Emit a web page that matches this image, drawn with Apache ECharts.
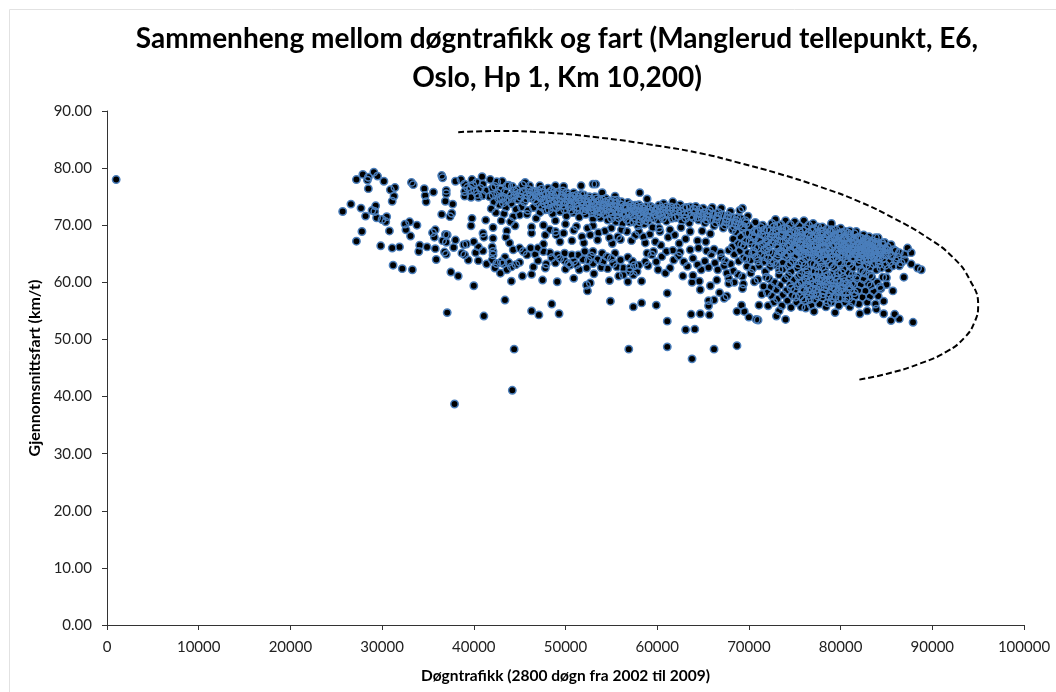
<!DOCTYPE html>
<html>
<head>
<meta charset="utf-8">
<title>Sammenheng mellom døgntrafikk og fart</title>
<script src="https://cdn.jsdelivr.net/npm/echarts@6/dist/echarts.min.js"></script>
<style>
html,body{margin:0;padding:0;background:#fff}
#chart{width:1056px;height:692px}
</style>
</head>
<body>
<div id="chart"></div>
<script>
// [tusen kjoretoy per dogn, km/t]
var enslig = [[1,78]]
var venstreKlynge = [[25.7,72.4],[26.6,73.7],[27.2,78],[27.2,67.2],[27.8,68.9],[27.7,73],[27.9,78.9],[28.2,71.6],[28.5,78.4],[28.5,76.4],[28.4,77.9],[28.9,72.6],[29.1,79.3],[29.3,73.4],[29.2,72.4],[29.5,78.6],[29.4,71.3],[29.85,66.4],[30,71],[30.2,77.7],[30.5,71.5],[30.4,70.6],[30.8,69],[30.9,76.2],[31.4,76.6],[31.3,75.1],[31.1,74.2],[31.1,66],[31.2,63],[31.9,66.2],[32.2,62.4],[33.3,62.2],[32.5,70.2],[33,70.6],[32.6,69.2],[33.1,68.1],[33.8,70],[33.2,77.5],[33.4,77.1],[34.6,76.4],[34.7,75.2],[34.8,74.1],[35.6,75.8],[34.1,66.5],[34,65.4],[34.9,66.2],[35.8,65.9],[35.9,64],[35.8,69.2],[35.5,68.7],[35.7,67.9],[36.5,71.9],[36.5,78.7],[36.6,78.3],[37,76.1],[37,75.5],[36.9,74.2],[37.7,73.7],[37.6,72.1],[37.4,71.5],[37.1,68.3],[36.9,68.4],[36.6,67.3],[37,67],[38,67.4],[37.8,66.1],[37,64.9],[36.8,65.3],[37.5,61.8],[38.3,61.1],[40,59.4]]
var utliggere = [[37.1,54.7],[41.1,54.1],[43.4,56.9],[44.4,48.3],[44.2,41.1],[37.9,38.7],[46.3,55],[47.1,54.3],[48.5,56.2],[49.3,54.5],[54.9,56.7],[56.9,48.3],[57.4,55.7],[58.3,56.4],[59.9,56],[61.1,58.1],[61.1,53.2],[61.1,48.7],[63.8,46.6],[66.2,48.3],[68.7,48.9],[63.1,51.7],[64.1,51.8],[63.7,54.4],[64.7,54.5],[65.7,54.3],[65.6,55.9],[65.6,56.8],[66.2,56.9],[67.3,57.2],[67.6,57.6],[66.8,58.2],[64.7,58.7],[65.8,59.4],[66.5,60.4],[63.8,60],[64.6,60.2],[62.8,61.1],[63.9,61.2],[69.4,59.7],[69.3,58.9],[68.4,60],[67.8,59.8],[67.8,60.7],[69.2,56],[68.7,54.9],[69.5,54.9],[70,53.9],[70.8,53.5],[71,53.4],[71.1,56],[74,53.5],[73.3,55],[73,54.1],[72.1,55.9],[76.2,55.5],[77.1,54.9],[79.4,54.7],[81,55.7],[82.1,54.5],[82.9,55],[83.9,55.3],[84.7,54.5],[85.5,53.3],[85.9,54.4],[86.4,53.6],[87.9,53],[84.7,56.7],[85.7,58.5],[86.9,60.9],[88.8,62.2],[88.4,62.5],[87.7,63.2],[87,63.9],[87.7,65.2],[87.3,66],[87,64.9],[86.4,62.9],[84.3,59.2],[83.3,59.4],[85,60.8]]
var ovreBandVenstre = [[38,77.7],[38.6,78],[39,77.2],[39.8,78],[40.9,78.5],[41,77.2],[40.3,77.5],[41.8,78],[42.5,77.6],[43.1,77.7],[39,75.9],[39.6,76.2],[40.1,76],[40.7,76.5],[39,75.1],[39.7,74.9],[40.5,74.9],[41,75.2],[42.3,76.8],[42.9,76.2],[42.1,75.3],[43.2,74.9],[43.6,76.9],[44.2,76.8],[44.7,76.2],[45.6,77.5],[46.1,76.9],[47.2,76.9],[48.1,76.5],[48.9,76.9],[49.8,76.8],[51.7,76.9],[53,77.2],[53.3,77.2],[54,75.7],[55.4,75.1],[58.1,75.7],[58.9,74.6],[60.7,73.8],[39.3,76.6],[39.9,77],[40.4,75.4],[41.3,76.1],[41.7,75],[42,76.5],[42.6,75.6],[43,74.6],[43.4,75.9],[43.8,77],[44,75.2],[44.4,76],[44.8,74.5],[45,75.6],[45.3,77],[45.5,74.1],[45.8,75.3],[46,76.2],[46.3,74.7],[46.6,75.8],[46.9,73.9],[47.1,75],[47.4,76.3],[47.6,74.3],[47.9,75.4],[48.1,73.6],[48.3,74.9],[48.5,76.1],[48.8,74.2],[49,75.4],[49.2,73.5],[49.5,74.7],[49.7,76],[50,74.1],[50.2,75.3],[50.4,73.2],[50.7,74.5],[50.9,75.7],[51.1,73.8],[51.4,74.9],[51.6,72.9],[51.8,74.2],[52,75.3],[52.3,73.4],[52.5,74.6],[52.7,72.6],[53,73.9],[53.2,75],[53.5,73],[53.7,74.3],[53.9,72.3],[54.2,73.5],[54.4,74.7],[54.6,72.8],[54.9,73.9],[55.1,71.9],[55.3,73.2],[55.6,74.4],[55.8,72.4],[56,73.6],[56.3,71.6],[56.5,72.9],[56.8,74],[57,72.1],[57.2,73.2],[57.5,71.3],[57.7,72.5],[58,73.6],[58.2,71.7],[58.5,72.9],[58.7,70.9],[59,72.2],[59.3,73.3],[42.8,73.6],[43.5,73.1],[44.1,73.8],[44.6,72.8],[45.2,73.2],[45.9,72.6],[46.5,73.1],[47.2,72.2],[47.8,72.7],[48.6,72],[49.4,72.4],[50.1,71.6],[50.8,72.2],[51.5,71.4],[52.2,71.9],[53,71.1],[53.8,71.3],[54.6,70.9],[55.5,70.6],[56.2,70.3],[57,70.5],[57.9,69.9],[58.6,70.2],[59.5,69.6],[41.9,72.9],[42.4,72.2],[43.3,72],[44.3,71.5],[46.8,71.2],[48.9,70.8]]
var tettBand = [[44.2,74.7],[44.5,75.3],[45.1,74.9],[45.4,75.9],[45.7,74.6],[46.2,75.1],[46.4,76],[46.7,74.4],[46.8,75.3],[47,76],[47.3,74.8],[47.5,75.6],[47.7,73.8],[47.9,74.5],[48.2,75.7],[48.4,74.2],[48.6,75.3],[48.7,73.2],[49,74.6],[49.1,75.8],[49.3,74.1],[49.6,75.2],[49.8,73.5],[50,74.8],[50.1,75.7],[50.3,74],[50.5,74.9],[50.6,73.6],[50.8,75.1],[51,74.3],[51.2,75.2],[51.3,73.2],[51.5,74.5],[51.7,75.4],[51.9,73.5],[52.1,74.6],[52.2,72.9],[52.4,74],[52.6,75],[52.8,73.2],[52.9,74.3],[53.1,72.7],[53.3,73.5],[53.4,74.6],[53.6,72.5],[53.8,73.6],[54,74.5],[54.1,72.8],[54.3,74],[54.5,73.1],[54.7,74.2],[54.8,72.2],[55,73.3],[55.2,74.4],[55.4,72.6],[55.5,73.8],[55.7,72],[55.9,73],[56.1,74.1],[56.2,72.2],[56.4,73.2],[56.6,71.9],[56.7,73.3],[56.9,72.5],[57.1,73.6],[57.3,71.8],[57.4,72.8],[57.6,73.5],[57.8,71.9],[57.9,73],[58.1,72.3],[58.3,73.2],[58.4,71.3],[58.6,72.4],[58.8,73.3],[58.9,71.5],[59.1,72.7],[59.2,71.4],[59.4,72.4],[59.6,73],[59.8,71.9],[60,72.9],[60.1,70.9],[60.3,72.2],[60.5,73],[60.6,71.2],[60.8,72],[61,73.2],[61.3,72.6],[61.6,71.2],[61.8,72.5],[62.1,73.1],[62.3,71.6],[62.6,72.4],[62.9,73],[63.1,71.2],[63.4,72.2],[63.6,73.2],[63.9,71.3],[64.1,72.2],[64.4,71.4],[64.6,72.7],[64.9,71.3],[65.1,72.2],[65.4,70.9],[65.6,72.1],[65.9,71],[66.1,71.9],[66.4,70.4],[66.6,71.6],[66.9,70.6],[67.1,71.8],[67.4,70],[67.6,71.2],[67.9,70.5],[68.1,71.4],[68.4,69.7],[68.6,70.8],[68.9,70],[69.1,71.2],[69.4,69.8],[69.7,70.3],[43.7,74.5],[43.2,73.9],[42.7,74.7],[42.2,74.1],[47.4,73.2],[48.2,72.7],[49,73.1],[49.9,72.8],[50.6,72.6],[51.2,72.7],[52,72.5],[52.9,72.2],[53.5,71.9],[54.3,71.9],[55,71.2],[55.8,71.3],[56.7,71],[57.4,70.6],[58.1,70.6],[59,70.7]]
var ovreBandHoyre = [[59.6,71.2],[59.9,72.6],[60.2,73.5],[60.4,71.7],[60.7,72.5],[61,70.7],[61.2,71.9],[61.5,73.2],[61.7,74.1],[62,71.3],[62.2,72.5],[62.5,73.6],[62.7,70.8],[63,71.9],[63.2,73.1],[63.5,70.4],[63.7,71.6],[64,72.8],[64.2,73.3],[64.5,70.9],[64.7,72],[65,73],[65.2,70.4],[65.5,71.5],[65.7,72.6],[66,73.1],[66.2,69.9],[66.5,71.1],[66.7,72.2],[67,73],[67.2,69.5],[67.5,70.6],[67.7,71.7],[68,72.4],[68.2,69.2],[68.5,70.3],[68.7,71.3],[69,72.6],[69.3,73],[69.6,70.8],[69.9,71.6],[60.2,69.5],[61.4,69.2],[62.6,69.6],[63.6,68.9],[64.9,69],[65.8,68.5],[61.9,68.3],[63.1,67.6],[62.4,66.8],[64.4,67.3],[65.3,67.1]]
var midtreSky = [[39.8,71.2],[39.7,69.9],[41.3,70.9],[42.1,69.6],[43,70.8],[44,70.6],[44.5,69.9],[43.6,69],[41,68.6],[41.1,67.9],[42.1,67.7],[43.5,67.9],[43.9,66.9],[45,71.8],[45.8,71.9],[46.3,69.7],[46.3,68.6],[47.6,70],[48.3,69.2],[48.9,68.9],[47.8,68.3],[49,68.3],[49.8,68.6],[50,70.2],[51.8,68],[52,66.9],[53.5,67.4],[53.6,68.7],[54.8,67.8],[55.7,68],[56.7,68.9],[58,68.9],[57.2,67.3],[58.7,66.9],[59.8,67.1],[59.6,65.4],[61,65.4],[61.2,67.9],[60.3,68.9],[51.2,69.8],[52.4,69.5],[53,69.9],[55,69.5],[56.1,69.2],[57.6,68.2],[49.4,67.1],[50.7,67.3],[55.1,66.8],[60.4,66.5],[50.9,69.1],[52.7,68.3],[54.3,69],[56,67.5],[58.5,68],[59.2,68.4]]
var nedreSky = [[38.9,66.6],[39.2,66.7],[40,67.1],[40.5,66.2],[40.2,65.2],[41,65.5],[42,66.2],[42.1,65.4],[39.4,63.9],[40.5,63.8],[41.4,63.2],[42,63.9],[42.1,64.8],[42.5,63.3],[42.3,62.5],[42.9,61.6],[43.4,64.4],[43.2,63.3],[43.6,62.2],[44.1,62.7],[44.1,60.2],[45.3,61.1],[46.3,61.4],[46.5,62.7],[45,63.5],[45.8,64.8],[45,66],[44.3,65.7],[45.4,65.4],[47,66],[47.6,66.7],[47.6,65.4],[48.3,65.2],[47,63.8],[47.9,63.2],[47.8,62.5],[48.5,64.3],[47.5,60.4],[49.1,60.1],[49.4,64.2],[49.9,65.1],[50.3,63.3],[50,62.3],[50.7,64.8],[50.5,63],[51.5,62.2],[50.9,60.7],[51.4,64.8],[52.1,65.4],[52.5,63.9],[53,65.4],[52.3,62.5],[53,63.3],[53.1,61.5],[52.7,59.9],[52.3,59.5],[52.4,58.5],[54,65.1],[54.5,64.5],[55.4,65.1],[54.1,63.6],[55.2,63.3],[54.8,60.3],[55.8,61.1],[56.3,62.5],[56.8,64.4],[57,62.5],[57.8,61.9],[58.7,63.6],[58.9,65.1],[59.4,64.8],[56.8,60.1],[58.3,60.2],[56.3,61.3],[57.4,61.3],[60.1,62.2],[60.9,61.6],[61.4,62.5],[43,63.6],[43.8,63.5],[44.6,63.1],[48.9,63.4],[49.1,64.8],[49.9,63.8],[50.9,63.7],[51.2,63.1],[51.9,64],[52.8,64.6],[53.5,64],[53.9,62.6],[54.6,62.4],[55,64.2],[55.6,62.7],[56,63.9],[57.3,63.7],[57.5,62.9],[57,61.9],[58,63],[59,62.9],[59.9,63.6],[60.5,64.5],[61.8,63.9],[62.3,64.6],[62.9,63.6],[63.3,62.8],[63.9,64.2],[64.4,63.1],[64.8,62.2],[65.2,63.7],[65.6,62.6],[65.9,64.9],[66.3,63.4],[66.6,62.2],[67,64.3],[67.3,62.9],[67.6,61.6],[61.7,65.6],[62.5,65.3],[63.6,65.7],[64.5,66],[65.4,65.5],[66.2,65.8],[66.9,65.2],[67.4,63.7],[67.8,65.6],[68,63.2],[68.3,62],[68.8,61.4],[69.3,61],[38.7,65.1],[39,64.8],[46.2,66],[46.7,64.9]]
var kjerneOvre = [[68.2,66.2],[68.3,67.6],[68.4,64.9],[68.6,68.8],[68.8,66.8],[68.9,63.7],[69,65.5],[69.1,68],[69.3,69.5],[69.4,64.3],[69.5,66.3],[69.6,67.2],[69.8,62.8],[69.9,65.1],[70,68.6],[70.1,69.8],[70.2,63.9],[70.3,66.7],[70.4,62.4],[70.5,65.4],[70.6,67.8],[70.7,70.5],[70.8,64.4],[70.9,69],[71,66],[71.1,62.9],[71.2,67.4],[71.3,64.9],[71.4,68.4],[71.5,70],[71.6,63.6],[71.7,65.7],[71.8,61.9],[71.9,67],[72,69.3],[72.1,64.2],[72.2,66.4],[72.3,62.7],[72.4,68],[72.5,70.3],[72.6,65.1],[72.7,63.5],[72.8,67.3],[72.9,71],[73,69],[73.1,64.5],[73.2,66],[73.3,62.2],[73.4,68.2],[73.5,70.1],[73.6,65.3],[73.7,63.4],[73.8,67.1],[73.9,69.5],[74,70.8],[74.1,64.5],[74.2,66.2],[74.3,62.9],[74.4,68.3],[74.5,70.1],[74.6,65.4],[74.7,67.2],[74.8,63.7],[74.9,69.1],[75,70.6],[75.1,66.1],[75.2,64.7],[75.3,62.5],[75.4,68],[75.5,69.9],[75.6,65.5],[75.7,67],[75.8,63.5],[75.9,69],[76,70.8],[76.1,66.2],[76.2,64.3],[76.3,68.2],[76.4,62.2],[76.5,70],[76.6,65.3],[76.7,67.3],[76.8,63.3],[76.9,69.2],[77,70.3],[77.1,66.1],[77.2,64.5],[77.3,68],[77.4,62.8],[77.5,69.7],[77.6,65.2],[77.7,67.2],[77.8,63.6],[77.9,68.9],[78,69.7],[78.1,66],[78.2,64.3],[78.3,62.2],[78.4,68],[78.5,69.3],[78.6,65.3],[78.7,67],[78.8,63.3],[78.9,68.8],[79,70.3],[79.1,66.2],[79.2,64.4],[79.3,62.6],[79.4,67.9],[79.5,69.2],[79.6,65.4],[79.7,66.9],[79.8,63.5],[79.9,68.5],[80,69.5],[80.1,66],[80.2,64.5],[80.3,62.3],[80.4,67.6],[80.5,68.9],[80.6,65.2],[80.7,66.7],[80.8,63.5],[80.9,68.2],[81,69],[81.1,65.9],[81.2,64.2],[81.3,62.5],[81.4,67.4],[81.5,68.5],[81.6,65.1],[81.7,68.9],[81.8,66.5],[81.9,63.4],[82,67.9],[82.1,64.6],[82.2,62.2],[82.3,65.7],[82.4,67],[82.5,68.3],[82.6,64],[82.7,66.2],[82.8,63],[82.9,67.5],[83,65],[83.1,68],[83.2,62.7],[83.3,66.3],[83.4,64.2],[83.5,67.2],[83.6,63.2],[83.7,65.5],[83.8,67.8],[83.9,64.3],[84,66.6],[84.1,67.8],[84.2,63.2],[84.3,65.2],[84.4,62.5],[84.5,66.9],[84.6,64.1],[84.7,65.8],[84.8,67],[84.9,63],[85,64.8],[85.1,66.2],[85.2,62.3],[85.3,65.2],[85.4,63.6],[85.5,66.6],[85.6,64.6],[85.7,62.9],[85.8,65.7],[86,65.5],[86,63.8],[86.2,64.4],[86.4,65.2],[86.6,63.4],[70.6,68.9],[71.3,69.6],[72.7,69.7],[73.7,68.7],[74.3,67.6],[75.3,67.6],[76.3,66.8],[77.4,66.8],[78.2,67.6],[79.1,67.5],[80.1,67.2],[81.1,66.9],[82.3,66.3],[83.1,66],[72.2,65.4],[73.2,65],[74.2,65],[75.2,65.9],[76.1,65.1],[77.1,64.9],[78.2,65.2],[79.1,65],[80.2,65.6],[81.1,65.2],[82.2,65],[83.4,65.6],[84.4,65.3],[70.2,61.6],[74.6,61.9],[75.7,61.5],[77.6,61.7],[79.7,61.7],[80.9,61.6],[82.7,61.6],[83.9,62.2]]
var tettKjerne = [[70.1,67.3],[70.4,68.1],[70.7,66.2],[71,68.9],[71.1,67.5],[71.4,66.6],[71.6,69.1],[71.8,68],[72,66],[72.1,67.4],[72.3,69],[72.5,66.9],[72.6,68.5],[72.9,67.9],[73,66.5],[73.1,69.9],[73.3,67.2],[73.4,65.4],[73.6,68.2],[73.6,69.3],[73.8,66.2],[73.9,64.7],[74.1,67.9],[74.2,69.3],[74.3,66.7],[74.5,65.6],[74.6,68.7],[74.8,67.7],[74.9,66.3],[75,64.5],[75.1,68.8],[75.2,67],[75.4,65.4],[75.5,69],[75.6,66.5],[75.7,68.2],[75.8,64.9],[75.9,67.6],[76,65.8],[76.2,69.4],[76.3,67.4],[76.4,65.9],[76.5,68.6],[76.6,64.6],[76.7,66.6],[76.8,68.1],[76.9,65.3],[77,67.7],[77.1,69.4],[77.2,66.6],[77.3,65.5],[77.4,68.7],[77.5,64.2],[77.6,67.6],[77.7,66],[77.8,68.2],[77.9,64.9],[78,67],[78.1,68.9],[78.2,66.3],[78.3,65],[78.4,67.3],[78.5,64],[78.6,68.4],[78.7,66.1],[78.8,65],[78.9,67.5],[79,69.2],[79.1,64.4],[79.2,66.7],[79.3,68.2],[79.4,65.5],[79.5,67.4],[79.6,64.2],[79.7,68.4],[79.8,66.1],[79.9,65],[80,67.7],[80.1,68.7],[80.2,66.7],[80.3,64.9],[80.4,66.2],[80.5,67.8],[80.6,64.2],[80.7,65.8],[80.8,68.6],[80.9,66.6],[81,64.9],[81.1,67.8],[81.2,65.7],[81.3,66.7],[81.4,64.4],[81.5,67.3],[81.6,66],[81.7,64.9],[81.8,67.8],[81.9,65.6],[82,66.6],[82.1,64],[82.2,66.2],[82.3,67.7],[82.4,65.3],[82.5,66.7],[82.6,64.7],[82.7,67.4],[82.8,65.6],[82.9,66.5],[83,64.2],[83.1,67.1],[83.2,65.4],[83.3,64.8],[83.4,66.8],[83.5,65.9],[83.6,64.4],[83.7,66.6],[83.8,65.1],[83.9,67],[84,64.6],[84.2,66],[84.3,64.4],[84.5,65.7],[84.6,66.5],[84.8,64.9],[85,65.7],[69.7,68.6],[69.2,66.6],[69.7,64.1],[70.4,65],[71,63.7],[71.7,64.5],[72.4,63.4],[73,63],[73.7,62.3],[74.5,63.3],[75.4,63.1],[76.1,62.9],[77.1,63.2],[78,62.7],[79,63],[80,63.2],[81,63.1],[82,63.2],[83,63.6],[84.1,63.9]]
var kjerneNedre = [[72.2,60.6],[72.4,59.2],[72.5,57.6],[72.7,56.5],[72.8,60],[73,58.7],[73.1,57.1],[73.3,61.3],[73.4,59.5],[73.6,55.9],[73.7,57.8],[73.9,60.5],[74.1,58.6],[74.2,56.8],[74.3,61.1],[74.5,59.6],[74.6,55.6],[74.7,57.7],[74.9,60.4],[75,58.7],[75.2,56.5],[75.3,59.4],[75.4,61],[75.6,57.6],[75.7,55.7],[75.8,60],[76,58.5],[76.1,56.8],[76.3,59.5],[76.4,61.2],[76.5,57.7],[76.7,60.3],[76.8,56],[76.9,58.7],[77.1,59.8],[77.2,57],[77.3,61],[77.4,58.1],[77.6,60.3],[77.7,56.2],[77.8,59.2],[78,57.4],[78.1,60.6],[78.2,58.5],[78.4,55.7],[78.5,59.6],[78.6,61.2],[78.7,57.5],[78.9,60.4],[79,56.5],[79.1,58.7],[79.3,59.9],[79.4,57.5],[79.5,61],[79.7,58.4],[79.8,55.9],[79.9,60.1],[80.1,57.3],[80.2,59],[80.3,60.9],[80.5,56.5],[80.6,58.2],[80.7,59.8],[80.9,57.2],[81,60.6],[81.1,58.8],[81.3,56.5],[81.4,59.6],[81.6,57.6],[81.7,60.6],[81.9,58.6],[82,56.2],[82.2,59.6],[82.4,57.4],[82.5,60.5],[82.7,58.5],[82.9,56.5],[83,59.8],[83.2,57.5],[83.4,60.9],[83.6,58.4],[83.8,56.2],[84,60],[84.1,57.6],[84.4,58.9],[84.6,60.9],[85,59.6],[74.6,59],[75.5,59.9],[76.4,58.5],[77.3,58.8],[78.3,59.1],[79.2,59.2],[80.2,58.3],[81.2,59.8],[76.9,60.8],[77.5,57.6],[78.8,58.1],[79.6,60.4],[77.9,60.2],[76.6,59],[75.9,57.2],[78.6,56.4],[80.4,60.1],[81.5,58.2],[79,61.4],[81.8,61],[75.1,57.4],[75.9,58.9],[76.2,60.4],[76.6,57],[77,57.9],[77.4,59.6],[77.8,60.8],[78.1,58],[78.4,60.2],[78.8,59.4],[79.1,57.2],[79.4,58.9],[79.8,57.2],[80,58.8],[80.3,59.5],[80.6,57.2],[80.9,59.3],[76.2,61.8],[77.2,61.9],[78.4,61.6],[80.1,61.7],[81.3,61.3],[82.4,61.9],[83.2,61.2],[71,60.5],[71.6,59.3],[71.4,57.9],[71.9,60.9],[72,58.2],[70.6,60.1]]
var kurve = [[38.3,86.3],[42.9,86.5],[48,86.2],[53.4,85.4],[58.9,84.2],[64.7,82.6],[69,80.9],[73.1,79.1],[77.8,76.7],[82.1,74.1],[85.7,71.3],[89.4,67.9],[92.3,64.3],[94.1,60.4],[95,56],[94.6,53],[93.5,50.3],[91.6,47.9],[88.7,45.8],[85.1,44],[81.8,42.9]]

var tittel = 'Sammenheng mellom døgntrafikk og fart (Manglerud tellepunkt, E6,\nOslo, Hp 1, Km 10,200)'
var xNavn = 'Døgntrafikk (2800 døgn fra 2002 til 2009)'
var yNavn = 'Gjennomsnittsfart (km/t)'

function iKjoretoy(liste){
  return liste.map(function(p){ return [p[0]*1000,p[1]] })
}

var punkter = iKjoretoy(enslig.concat(venstreKlynge,utliggere,ovreBandVenstre,tettBand,ovreBandHoyre,midtreSky,nedreSky,kjerneOvre,tettKjerne,kjerneNedre))
var font = 'Lato'

var chart = echarts.init(document.getElementById('chart'),null,{renderer:'canvas'})
chart.setOption({
  animation:false,
  backgroundColor:'#fff',
  graphic:[
    {type:'line',silent:true,shape:{x1:9.5,y1:9.5,x2:1056,y2:9.5},style:{stroke:'#e2e2e2',lineWidth:1}},
    {type:'line',silent:true,shape:{x1:9.5,y1:9.5,x2:9.5,y2:692},style:{stroke:'#e2e2e2',lineWidth:1}}
  ],
  title:{
    text:tittel,
    left:552,
    top:14,
    textAlign:'center',
    textStyle:{fontFamily:font,fontSize:28,fontWeight:'bold',color:'#000',lineHeight:39}
  },
  grid:{left:107,right:32,top:111,bottom:67},
  xAxis:{
    type:'value',min:0,max:100000,interval:10000,
    name:xNavn,nameLocation:'middle',nameGap:43,
    nameTextStyle:{fontFamily:font,fontSize:15.5,fontWeight:'bold',color:'#000'},
    axisLine:{onZero:false,lineStyle:{color:'#333',width:1}},
    axisTick:{show:true,length:5,inside:false,lineStyle:{color:'#333'}},
    axisLabel:{fontFamily:font,fontSize:15,color:'#222',margin:15,formatter:function(v){return String(v)}},
    splitLine:{show:false}
  },
  yAxis:{
    type:'value',min:0,max:90,interval:10,
    name:yNavn,nameLocation:'middle',nameGap:59,
    nameTextStyle:{fontFamily:font,fontSize:16,fontWeight:'bold',color:'#000'},
    axisLine:{show:true,lineStyle:{color:'#333',width:1}},
    axisTick:{show:true,length:5,lineStyle:{color:'#333'}},
    axisLabel:{fontFamily:font,fontSize:15,color:'#222',margin:15,formatter:function(v){return v.toFixed(2)}},
    splitLine:{show:false}
  },
  series:[
    {type:'scatter',data:punkter,symbol:'circle',symbolSize:7.4,progressive:0,z:2,silent:true,
     itemStyle:{color:'#000',opacity:1}},
    {type:'scatter',data:punkter,symbol:'circle',symbolSize:7.4,progressive:0,z:3,silent:true,
     itemStyle:{color:'transparent',borderColor:'#4a7ebb',borderWidth:1.5,opacity:1}},
    {type:'line',data:iKjoretoy(kurve),smooth:0.5,symbol:'none',z:4,silent:true,
     lineStyle:{color:'#000',width:2,type:[6,3]}}
  ]
})
</script>
</body>
</html>
